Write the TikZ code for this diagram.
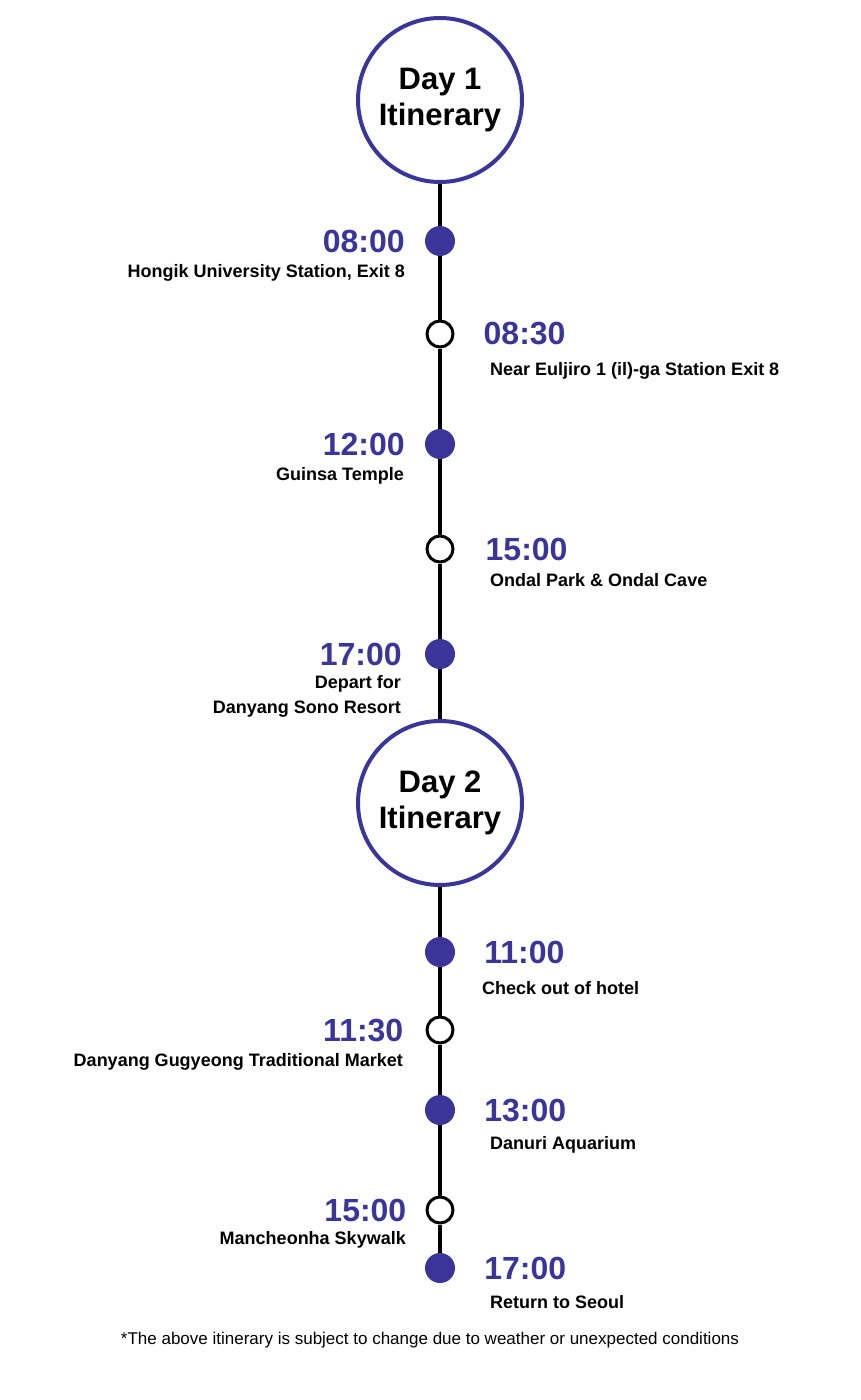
\documentclass[tikz,border=0pt]{standalone}
\usepackage{fontspec}
\setmainfont{Liberation Sans}
\usepackage{tikz}
\usetikzlibrary{positioning}
\definecolor{tourblue}{HTML}{3B3599}

\tikzset{
    daycircle/.style={circle, draw=tourblue, line width=4pt, fill=white, minimum size=164pt,
        inner sep=0pt, align=center, font=\fontsize{31}{36}\selectfont\bfseries},
    stopfull/.style={circle, fill=tourblue, minimum size=30pt, inner sep=0pt},
    stopopen/.style={circle, draw=black, line width=3pt, fill=white, minimum size=26pt, inner sep=0pt},
    timelabel/.style={inner sep=0pt, text=tourblue, font=\fontsize{32}{36}\selectfont\bfseries},
    placelabel/.style={inner sep=0pt, align=right, font=\fontsize{18}{25}\selectfont\bfseries},
    placeright/.style={placelabel, align=left, anchor=west},
    placeleft/.style={placelabel, anchor=east},
    track/.style={line width=3.5pt, black}
}

\begin{document}
\begin{tikzpicture}[x=1pt, y=-1pt]
    \useasboundingbox (0,0) rectangle (860,1400);

    % Days
    \node[daycircle] (day1) at (440,100) {Day 1\\Itinerary};
    \node[daycircle] (day2) at (440,803) {Day 2\\Itinerary};

    % Stops
    \node[stopfull] (s1) at (440,241) {};
    \node[stopopen] (s2) at (440,334) {};
    \node[stopfull] (s3) at (440,444) {};
    \node[stopopen] (s4) at (440,549) {};
    \node[stopfull] (s5) at (440,654) {};
    \node[stopfull] (s6) at (440,952) {};
    \node[stopopen] (s7) at (440,1030) {};
    \node[stopfull] (s8) at (440,1110) {};
    \node[stopopen] (s9) at (440,1210) {};
    \node[stopfull] (s10) at (440,1268) {};

    % Track
    \draw[track] (day1) -- (s1) -- (s2) -- (s3) -- (s4) -- (s5) -- (day2);
    \draw[track] (day2) -- (s6) -- (s7) -- (s8) -- (s9) -- (s10);

    % Day 1 labels
    \node[timelabel, left=20pt of s1] (t1) {08:00};
    \node[placeleft] (p1) at (405,273) {Hongik University Station, Exit 8};
    \node[timelabel, right=29pt of s2] (t2) {08:30};
    \node[placeright] (p2) at (490,371) {Near Euljiro 1 (il)-ga Station Exit 8};
    \node[timelabel, left=20pt of s3] (t3) {12:00};
    \node[placeleft] (p3) at (404,476) {Guinsa Temple};
    \node[timelabel, right=31pt of s4] (t4) {15:00};
    \node[placeright] (p4) at (490,580) {Ondal Park \& Ondal Cave};
    \node[timelabel, left=23pt of s5] (t5) {17:00};
    \node[placeleft] (p5) at (401,696) {Depart for\\Danyang Sono Resort};

    % Day 2 labels
    \node[timelabel, right=29pt of s6] (t6) {11:00};
    \node[placeright] (p6) at (482,988) {Check out of hotel};
    \node[timelabel, left=22pt of s7] (t7) {11:30};
    \node[placeleft] (p7) at (403,1062) {Danyang Gugyeong Traditional Market};
    \node[timelabel, right=29pt of s8] (t8) {13:00};
    \node[placeright] (p8) at (490,1145) {Danuri Aquarium};
    \node[timelabel, left=19pt of s9] (t9) {15:00};
    \node[placeleft] (p9) at (406,1240) {Mancheonha Skywalk};
    \node[timelabel, right=29pt of s10] (t10) {17:00};
    \node[placeright] (p10) at (490,1302) {Return to Seoul};

    \node[font=\fontsize{17}{20}\selectfont, inner sep=0pt] (note) at (430,1340)
        {*The above itinerary is subject to change due to weather or unexpected conditions};
\end{tikzpicture}
\end{document}
